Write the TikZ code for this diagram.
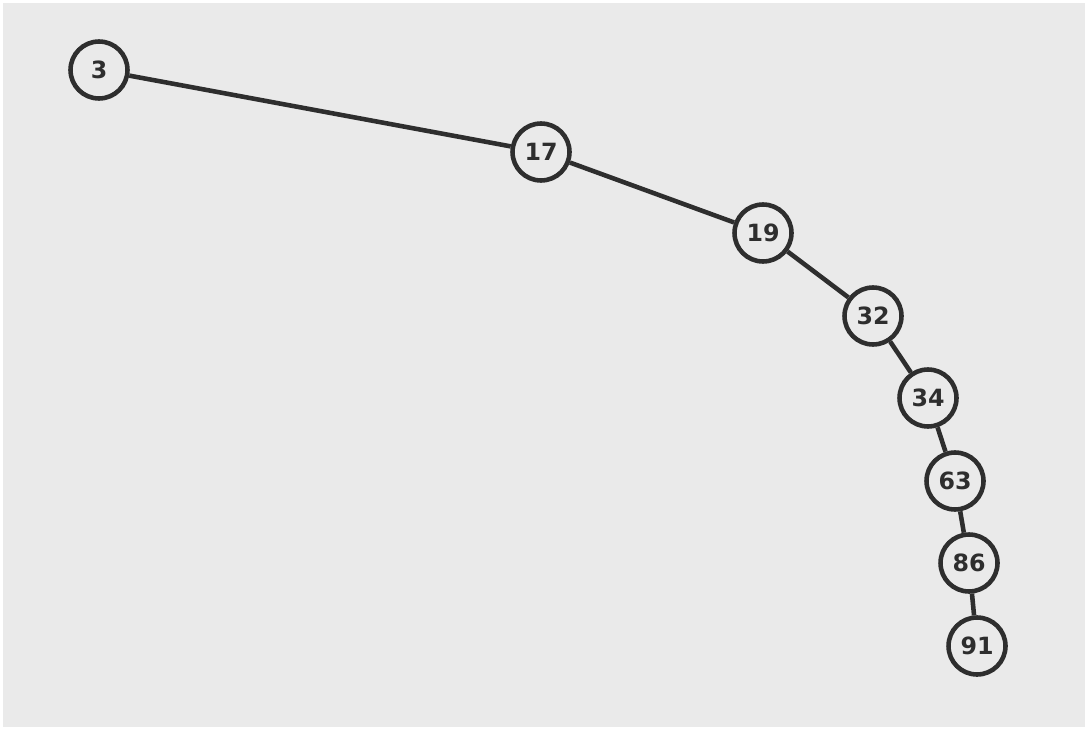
\documentclass[tikz,border=0pt]{standalone}
\usepackage{fontspec}
\setmainfont{DejaVu Sans}
\definecolor{fondo}{HTML}{EAEAEA}
\definecolor{tinta}{HTML}{2E2E2E}
\tikzset{
  nodo/.style={circle, draw=tinta, line width=2.6pt, fill=fondo, minimum size=1.14cm, inner sep=0pt, text=tinta, font=\bfseries\fontsize{13.5}{13.5}\selectfont},
  arista/.style={draw=tinta, line width=2.6pt},
}
\begin{document}
\begin{tikzpicture}[x=0.02cm, y=-0.02cm]
          \useasboundingbox[fill=white] (0,0) rectangle (1087,729);
          \fill[fondo] (3,3) rectangle (1085,727);
          \foreach \x/\y/\v in {99/70/3, 541/152/17, 763/233/19, 873/316/32, 928/398/34, 955/481/63, 969/563/86, 977/646/91}
            \node[nodo] (n\v) at (\x,\y) {\v};
          \foreach \a/\b in {3/17, 17/19, 19/32, 32/34, 34/63, 63/86, 86/91}
            \draw[arista] (n\a) -- (n\b);
        \end{tikzpicture}
\end{document}
